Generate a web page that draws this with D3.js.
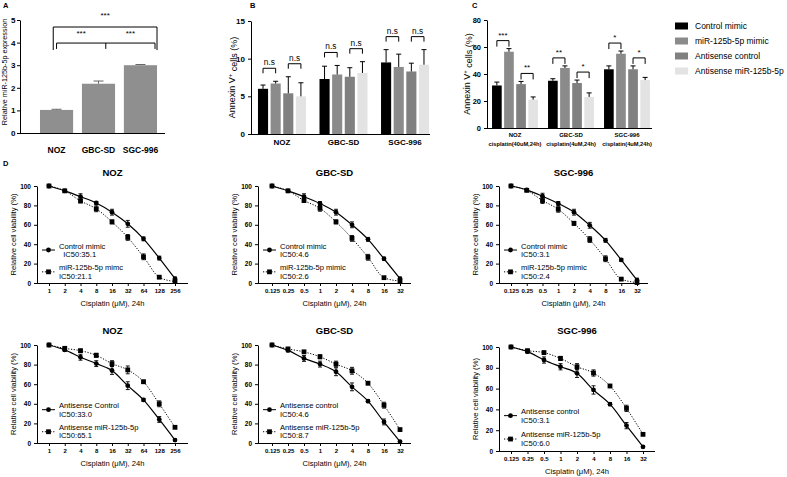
<!DOCTYPE html>
<html><head><meta charset="utf-8">
<script src="https://cdn.jsdelivr.net/npm/d3@7"></script>
<style>body{margin:0;background:#fff} svg{display:block}</style>
</head><body><svg id="c" width="787" height="477"></svg>
<script>
// ---------- DATA ----------
const cellLines = ["NOZ", "GBC-SD", "SGC-996"];
const aValues = [1.02, 2.18, 3.0];
const aErrors = [0.03, 0.12, 0.03];
const aTicks = [0, 1, 2, 3, 4, 5];

const groups = ["Control mimic", "miR-125b-5p mimic", "Antisense control", "Antisense miR-125b-5p"];
const groupColors = ["#000000", "#8b8b8b", "#808080", "#e3e3e3"];

const bValues = [[6.0, 6.7, 5.4, 5.0], [7.3, 7.9, 7.6, 8.1], [9.5, 8.9, 8.3, 9.2]];
const bErrors = [[0.5, 0.3, 2.2, 1.8], [1.7, 1.2, 1.2, 1.5], [1.7, 1.7, 1.1, 2.0]];
const bTicks = [0, 5, 10, 15];
const bSig = [["n.s", "n.s"], ["n.s", "n.s"], ["n.s", "n.s"]];

const cCategories = ["NOZ", "GBC-SD", "SGC-996"];
const cSubLabels = ["cisplatin(40uM,24h)", "cisplatin(4uM,24h)", "cisplatin(4uM,24h)"];
const cValues = [[31.5, 56.5, 32.5, 21.0], [35.0, 44.5, 33.3, 23.0], [43.5, 55.0, 43.5, 35.5]];
const cErrors = [[2.5, 2.3, 2.0, 2.0], [1.5, 1.5, 2.2, 3.0], [2.5, 2.0, 2.5, 2.0]];
const cTicks = [0, 20, 40, 60, 80];
const cSig = [["***", "**"], ["**", "*"], ["*", "*"]];

const doseHigh = [1, 2, 4, 8, 16, 32, 64, 128, 256];
const doseLow = [0.125, 0.25, 0.5, 1, 2, 4, 8, 16, 32];
const viabTicks = [0, 20, 40, 60, 80, 100];

// row 1 : mimic
const nozControlMimic = [100, 95, 89, 82.5, 73, 61, 45.5, 25.7, 4.5];
const nozControlMimicErr = [0, 1, 3, 1.5, 3, 3.5, 2, 2, 1.5];
const nozMimic = [100, 95, 84.6, 76.5, 63, 47, 27, 6, 1.5];
const nozMimicErr = [0, 1, 2, 3, 2, 3, 3, 1, 1];
const gbcControlMimic = [100, 95, 89, 82, 73, 60, 45, 25, 4.5];
const gbcControlMimicErr = [0, 1, 3, 2, 3, 3, 2, 1.5, 1.5];
const gbcMimic = [100, 95, 85, 77, 63, 46, 26.5, 5.5, 2];
const gbcMimicErr = [0, 1, 2, 3, 2, 3, 3, 1, 1];
const sgcControlMimic = [100, 96, 89.5, 82, 73, 59.5, 44, 23.8, 3];
const sgcControlMimicErr = [0, 1, 3, 2, 3, 3, 2, 1.5, 2];
const sgcMimic = [100, 95.5, 85, 76, 61.5, 44.8, 25, 4, 0.5];
const sgcMimicErr = [0, 1, 3, 3, 2, 3, 3, 1, 1];

// row 2 : antisense
const nozAsControl = [100, 95, 87.5, 81, 74, 58.5, 44, 24, 3];
const nozAsControlErr = [0, 1.5, 3, 3, 4, 4, 1.5, 3, 1];
const nozAsMiR = [100, 96.6, 94.2, 89.5, 81, 74.6, 62.5, 40, 16];
const nozAsMiRErr = [0, 1, 1.5, 2, 3, 4, 1.5, 3, 1];
const gbcAsControl = [100, 94.5, 86.3, 80.5, 72.7, 57.3, 42.7, 21.5, 1.5];
const gbcAsControlErr = [0, 1.5, 3, 3, 4, 4, 1.5, 3, 1];
const gbcAsMiR = [100, 96, 93, 88, 80.5, 73.7, 61, 38.6, 13.7];
const gbcAsMiRErr = [0, 1, 1.5, 2, 3, 3.5, 1.5, 3, 1];
const sgcAsControl = [100, 95.5, 87.5, 81, 74.7, 58.7, 45, 24.4, 4];
const sgcAsControlErr = [0, 1.5, 3, 3, 4, 4, 1.5, 3, 1];
const sgcAsMiR = [100, 96.5, 94.6, 89, 81, 75, 62.5, 41, 16];
const sgcAsMiRErr = [0, 1, 1.5, 2, 3, 3, 1.5, 3, 1];

// ---------- DRAW ----------
const F = '"Liberation Sans", Arial, Helvetica, sans-serif';
const svg = d3.select("#c");

function styleAxis(g, size, bold = true) {
  g.selectAll("path,line").attr("stroke", "#000").attr("stroke-width", 1);
  g.selectAll("text").attr("font-family", F).attr("font-size", size)
    .attr("font-weight", bold ? "bold" : "normal").attr("fill", "#000");
}
function text(g, x, y, s, size, opts = {}) {
  return g.append("text").attr("x", x).attr("y", y).text(s)
    .attr("font-family", F).attr("font-size", size)
    .attr("font-weight", opts.bold ? "bold" : "normal")
    .attr("text-anchor", opts.anchor || "middle").attr("fill", "#000");
}
function vText(g, x, y, s, size) {
  return g.append("text").attr("transform", `translate(${x},${y}) rotate(-90)`)
    .attr("text-anchor", "middle").attr("dy", "0.35em")
    .attr("font-family", F).attr("font-size", size).attr("fill", "#000").text(s);
}
function bracket(g, x1, x2, y, leg) {
  g.append("path").attr("d", `M${x1},${y + leg}V${y}H${x2}V${y + leg}`)
    .attr("fill", "none").attr("stroke", "#000").attr("stroke-width", 1);
}

// panel letters
text(svg, 3, 8, "A", 7.5, { bold: true, anchor: "start" });
text(svg, 250, 8, "B", 7.5, { bold: true, anchor: "start" });
text(svg, 472, 8, "C", 7.5, { bold: true, anchor: "start" });
text(svg, 3, 166, "D", 7.5, { bold: true, anchor: "start" });

// ----- Panel A -----
{
  const g = svg.append("g");
  const y = d3.scaleLinear().domain([0, 5]).range([133, 20]);
  const x = d3.scaleBand().domain(cellLines).range([31.6, 165.4]).paddingInner(0.21).paddingOuter(0.2);
  const bw = x.bandwidth();
  g.selectAll("rect.bar").data(cellLines).join("rect")
    .attr("x", d => x(d)).attr("width", bw)
    .attr("y", (d, i) => y(aValues[i])).attr("height", (d, i) => y(0) - y(aValues[i]))
    .attr("fill", "#8f8f8f");
  cellLines.forEach((d, i) => {
    const cx = x(d) + bw / 2, t = y(aValues[i] + aErrors[i]);
    g.append("path").attr("d", `M${cx},${y(aValues[i])}V${t}M${cx - 5},${t}H${cx + 5}`)
      .attr("stroke", "#666").attr("stroke-width", 1).attr("fill", "none");
  });
  const ya = g.append("g").attr("transform", "translate(20,0)")
    .call(d3.axisLeft(y).tickValues(aTicks).tickFormat(d3.format("d")).tickSize(3).tickPadding(1.5).tickSizeOuter(0));
  styleAxis(ya, 8);
  g.append("line").attr("x1", 20).attr("x2", 165).attr("y1", 133.5).attr("y2", 133.5).attr("stroke", "#000");
  cellLines.forEach(d => text(g, x(d) + bw / 2, 153, d, 8.5, { bold: true }));
  vText(g, 4.5, 72, "Relative miR-125b-5p expression", 7.2);
  // brackets
  const oL = x("NOZ") + bw * 0.4, oR = x("SGC-996") + bw;
  bracket(g, oL, oR, y(4.69), y(3.67) - y(4.69));
  text(g, (oL + oR) / 2, 18, "***", 8);
  const iL = x("NOZ") + bw * 0.5, iR = x("SGC-996") + bw * 0.94, iM = (iL + iR) / 2;
  bracket(g, iL, iR, y(3.98), y(3.72) - y(3.98));
  g.append("line").attr("x1", iM).attr("x2", iM).attr("y1", y(3.98)).attr("y2", y(3.72)).attr("stroke", "#000");
  text(g, (iL + iM) / 2, 36, "***", 8);
  text(g, (iM + iR) / 2, 36, "***", 8);
}

// ----- grouped bar panels -----
function groupedPanel(cfg) {
  const g = svg.append("g");
  const y = d3.scaleLinear().domain(cfg.yDomain).range([cfg.yBot, cfg.yTop]);
  const x = d3.scaleBand().domain(cellLines).range(cfg.xRange).paddingInner(cfg.padIn).paddingOuter(cfg.padOut);
  const xi = d3.scaleBand().domain(groups).range([0, x.bandwidth()]).paddingInner(0.2);
  const bw = xi.bandwidth();
  cellLines.forEach((c, ci) => {
    groups.forEach((s, si) => {
      const v = cfg.values[ci][si], e = cfg.errors[ci][si];
      const bx = x(c) + xi(s), cx = bx + bw / 2;
      g.append("rect").attr("x", bx).attr("width", bw).attr("y", y(v)).attr("height", y(0) - y(v))
        .attr("fill", groupColors[si]);
      const t = y(v + e);
      g.append("path").attr("d", `M${cx},${y(v)}V${t}M${cx - 2.5},${t}H${cx + 2.5}`)
        .attr("stroke", "#000").attr("stroke-width", 1).attr("fill", "none");
    });
    [[0, 1], [2, 3]].forEach((pair, pi) => {
      const cx1 = x(c) + xi(groups[pair[0]]) + bw / 2, cx2 = x(c) + xi(groups[pair[1]]) + bw / 2;
      const top = Math.min(...pair.map(k => y(cfg.values[ci][k] + cfg.errors[ci][k])));
      const yb = top - cfg.gap;
      bracket(g, cx1, cx2, yb, cfg.leg);
      text(g, (cx1 + cx2) / 2, yb - 3, cfg.sig[ci][pi], cfg.sigSize);
    });
  });
  const ya = g.append("g").attr("transform", `translate(${cfg.xAxis[0]},0)`)
    .call(d3.axisLeft(y).tickValues(cfg.ticks).tickSize(3).tickSizeOuter(0));
  styleAxis(ya, cfg.tickSize);
  g.append("line").attr("x1", cfg.xAxis[0]).attr("x2", cfg.xAxis[1]).attr("y1", cfg.yBot + 0.5).attr("y2", cfg.yBot + 0.5).attr("stroke", "#000");
  const yl = g.append("text").attr("transform", `translate(${cfg.yLabelX},${(cfg.yTop + cfg.yBot) / 2}) rotate(-90)`)
    .attr("text-anchor", "middle").attr("dy", "0.35em").attr("font-family", F).attr("font-size", 9).attr("fill", "#000");
  yl.append("tspan").text("Annexin V");
  yl.append("tspan").attr("font-size", 6).attr("dy", "-0.6em").text("+");
  yl.append("tspan").attr("dy", "0.6em").text(" cells (%)");
  return { g, x, bw: x.bandwidth() };
}

const pb = groupedPanel({
  yDomain: [0, 15], yBot: 134, yTop: 21, xRange: [251.2, 435.8], padIn: 0.22, padOut: 0.11,
  values: bValues, errors: bErrors, sig: bSig, gap: 13, leg: 5, sigSize: 8.3,
  ticks: bTicks, tickSize: 8, xAxis: [251, 430], yLabelX: 232
});
cellLines.forEach(d => text(pb.g, pb.x(d) + pb.bw / 2, 145, d, 8, { bold: true }));

const pc = groupedPanel({
  yDomain: [0, 80], yBot: 128, yTop: 20, xRange: [487, 655], padIn: 0.18, padOut: 0.09,
  values: cValues, errors: cErrors, sig: cSig, gap: 8, leg: 6, sigSize: 8,
  ticks: cTicks, tickSize: 7.5, xAxis: [487, 652], yLabelX: 467
});
cCategories.forEach((d, i) => {
  text(pc.g, pc.x(d) + pc.bw / 2, 137, d, 6, { bold: true });
  text(pc.g, pc.x(d) + pc.bw / 2, 146, cSubLabels[i], 5.7, { bold: true });
});

// legend
{
  const g = svg.append("g");
  groups.forEach((s, i) => {
    const cy = 26 + i * 15;
    g.append("rect").attr("x", 675).attr("y", cy - 3.5).attr("width", 13).attr("height", 7).attr("fill", groupColors[i]);
    text(g, 695, cy, s, 8.5, { anchor: "start" }).attr("dominant-baseline", "central");
  });
}

// ----- Panel D -----
function marker(g, px, py, square) {
  if (square) g.append("rect").attr("x", px - 2.4).attr("y", py - 2.4).attr("width", 4.8).attr("height", 4.8).attr("fill", "#000");
  else g.append("circle").attr("cx", px).attr("cy", py).attr("r", 2.4).attr("fill", "#000");
}
function curvePanel(cfg) {
  const g = svg.append("g");
  const { x0, t0, t1, xEnd, yTop, yBot, doses } = cfg;
  const x = d3.scaleLog().base(2).domain([doses[0], doses[doses.length - 1]]).range([t0, t1]);
  const y = d3.scaleLinear().domain([0, 100]).range([yBot, yTop]);
  const ya = g.append("g").attr("transform", `translate(${x0},0)`)
    .call(d3.axisLeft(y).tickValues(viabTicks).tickSize(3).tickSizeOuter(0));
  styleAxis(ya, 6.5);
  const xa = g.append("g").attr("transform", `translate(0,${yBot})`)
    .call(d3.axisBottom(x).tickValues(doses).tickFormat(d => String(d)).tickSize(3).tickSizeOuter(0));
  xa.select(".domain").attr("d", `M${x0},0.5H${xEnd}`);
  styleAxis(xa, 6);
  const cx = (x0 + xEnd) / 2;
  text(g, cx, cfg.titleY, cfg.title, 9.5, { bold: true });
  text(g, cx, yBot + 23, "Cisplatin (μM), 24h", 7.6);
  vText(g, x0 - 24, (yTop + yBot) / 2, "Relative cell viability (%)", 7.6);
  const h = yBot - yTop;
  cfg.series.forEach((s, si) => {
    const pts = doses.map((d, i) => [x(d), y(s.values[i]), s.errs[i], s.values[i]]);
    const line = d3.line().x(p => p[0]).y(p => p[1]).curve(d3.curveMonotoneX);
    g.append("path").attr("d", line(pts)).attr("fill", "none").attr("stroke", "#000")
      .attr("stroke-width", s.dashed ? 1 : 1.2).attr("stroke-dasharray", s.dashed ? "1.2,1.6" : null);
    pts.forEach(p => {
      if (p[2] > 0) {
        const a = y(p[3] + p[2]), b = y(p[3] - p[2]);
        g.append("path").attr("d", `M${p[0]},${a}V${b}M${p[0] - 2},${a}H${p[0] + 2}M${p[0] - 2},${b}H${p[0] + 2}`)
          .attr("stroke", "#000").attr("stroke-width", 0.9).attr("fill", "none");
      }
      marker(g, p[0], p[1], s.dashed);
    });
    const sy = yBot - h * (si === 0 ? 0.34 : 0.115);
    g.append("line").attr("x1", x0 + 5).attr("x2", x0 + 18).attr("y1", sy).attr("y2", sy)
      .attr("stroke", "#000").attr("stroke-dasharray", s.dashed ? "1.2,1.6" : null);
    marker(g, x0 + 11.5, sy, s.dashed);
    const l1 = yBot - h * (si === 0 ? 0.38 : 0.155), l2 = yBot - h * (si === 0 ? 0.29 : 0.072);
    text(g, x0 + 22, l1, s.label, 7.6, { anchor: "start" }).attr("dominant-baseline", "central");
    text(g, x0 + 22, l2, s.ic50, 7.6, { anchor: "start" }).attr("dominant-baseline", "central");
  });
}

const row1 = { yTop: 186, yBot: 283, titleY: 176 };
const row2 = { yTop: 345, yBot: 443, titleY: 334 };
curvePanel({ ...row1, x0: 37, t0: 49, t1: 175, xEnd: 188, doses: doseHigh, title: "NOZ", series: [
  { values: nozControlMimic, errs: nozControlMimicErr, dashed: false, label: "Control mimic", ic50: "\u00a0\u00a0IC50:35.1" },
  { values: nozMimic, errs: nozMimicErr, dashed: true, label: "miR-125b-5p mimc", ic50: "IC50:21.1" }] });
curvePanel({ ...row1, x0: 258, t0: 272, t1: 400, xEnd: 411, doses: doseLow, title: "GBC-SD", series: [
  { values: gbcControlMimic, errs: gbcControlMimicErr, dashed: false, label: "Control mimic", ic50: "IC50:4.6" },
  { values: gbcMimic, errs: gbcMimicErr, dashed: true, label: "miR-125b-5p mimic", ic50: "IC50:2.6" }] });
curvePanel({ ...row1, x0: 499, t0: 511, t1: 637, xEnd: 648, doses: doseLow, title: "SGC-996", series: [
  { values: sgcControlMimic, errs: sgcControlMimicErr, dashed: false, label: "Control mimic", ic50: "IC50:3.1" },
  { values: sgcMimic, errs: sgcMimicErr, dashed: true, label: "miR-125b-5p mimic", ic50: "IC50:2.4" }] });

curvePanel({ ...row2, x0: 37, t0: 49, t1: 175, xEnd: 188, doses: doseHigh, title: "NOZ", series: [
  { values: nozAsControl, errs: nozAsControlErr, dashed: false, label: "Antisense Control", ic50: "IC50:33.0" },
  { values: nozAsMiR, errs: nozAsMiRErr, dashed: true, label: "Antisense miR-125b-5p", ic50: "IC50:65.1" }] });
curvePanel({ ...row2, x0: 258, t0: 272, t1: 400, xEnd: 411, doses: doseLow, title: "GBC-SD", series: [
  { values: gbcAsControl, errs: gbcAsControlErr, dashed: false, label: "Antisense control", ic50: "IC50:4.6" },
  { values: gbcAsMiR, errs: gbcAsMiRErr, dashed: true, label: "Antisense miR-125b-5p", ic50: "IC50:8.7" }] });
curvePanel({ yTop: 347, yBot: 451, titleY: 334, x0: 499, t0: 511, t1: 643, xEnd: 655, doses: doseLow, title: "SGC-996", series: [
  { values: sgcAsControl, errs: sgcAsControlErr, dashed: false, label: "Antisense control", ic50: "IC50:3.1" },
  { values: sgcAsMiR, errs: sgcAsMiRErr, dashed: true, label: "Antisense miR-125b-5p", ic50: "IC50:6.0" }] });
</script></body></html>
